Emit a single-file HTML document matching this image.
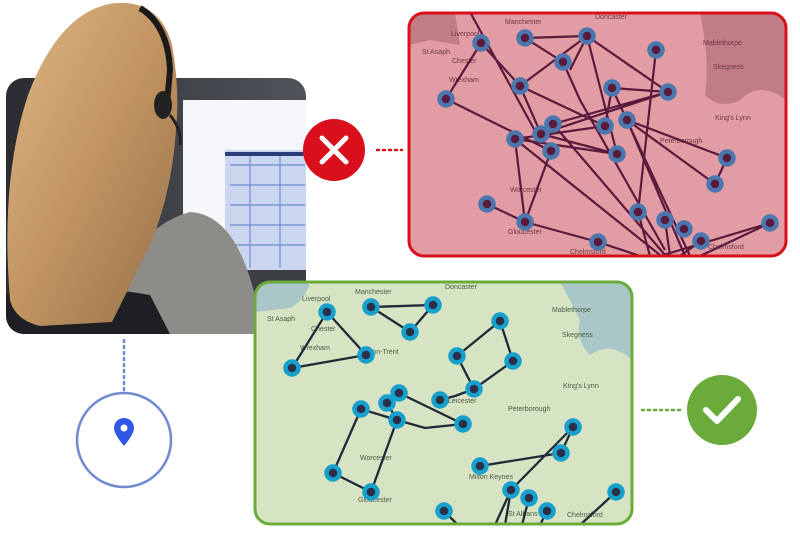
<!DOCTYPE html>
<html><head><meta charset="utf-8"><style>
html,body{margin:0;padding:0;background:#fff;width:800px;height:540px;overflow:hidden}
svg{display:block}
text{font-family:"Liberation Sans",sans-serif}
</style></head><body>
<svg width="800" height="540" viewBox="0 0 800 540" xmlns="http://www.w3.org/2000/svg">
<defs>
<clipPath id="ph"><rect x="6" y="78" width="300" height="256" rx="18"/></clipPath>
<clipPath id="rm"><rect x="409" y="13" width="377" height="243" rx="15"/></clipPath>
<clipPath id="gm"><rect x="255" y="282" width="377" height="242" rx="15"/></clipPath>
<linearGradient id="hair" x1="0" y1="0" x2="1" y2="1">
<stop offset="0" stop-color="#dcb785"/><stop offset=".5" stop-color="#c29462"/><stop offset="1" stop-color="#94704a"/></linearGradient>
<linearGradient id="bg" x1="0" y1="0" x2="1" y2="0">
<stop offset="0" stop-color="#2a2c30"/><stop offset="1" stop-color="#50545a"/></linearGradient>
</defs>

<g clip-path="url(#ph)">
<rect x="6" y="78" width="300" height="256" fill="url(#bg)"/>
<rect x="183" y="100" width="125" height="178" fill="#f4f6fa"/>
<rect x="225" y="150" width="83" height="120" fill="#c9d6ee"/>
<g stroke="#5a7ad0" stroke-width="1.2" opacity=".8">
<line x1="230" y1="165" x2="305" y2="165"/><line x1="230" y1="185" x2="305" y2="185"/><line x1="230" y1="205" x2="305" y2="205"/><line x1="230" y1="225" x2="305" y2="225"/><line x1="230" y1="245" x2="305" y2="245"/><line x1="250" y1="155" x2="250" y2="268"/><line x1="280" y1="155" x2="280" y2="268"/></g>
<rect x="225" y="152" width="83" height="4" fill="#2b3d78"/>
<rect x="150" y="270" width="160" height="64" fill="#3b3e42"/>
<path d="M95 334 Q125 230 190 212 Q245 215 262 334 Z" fill="#8d8c88"/>
<path d="M0 295 Q80 282 150 295 L170 334 L0 334 Z" fill="#1e1f22"/>
</g>
<path d="M10 300 Q0 180 28 95 Q60 10 115 3 Q160 0 172 45 Q180 90 176 130 Q172 190 152 240 Q128 290 112 322 L40 326 Q15 320 10 300 Z" fill="url(#hair)"/>
<path d="M140 8 Q168 25 170 70 L166 115" stroke="#1a1a1a" stroke-width="6" fill="none"/>
<ellipse cx="163" cy="105" rx="9" ry="14" fill="#222"/>
<path d="M170 115 Q182 130 180 145" stroke="#222" stroke-width="3" fill="none"/>

<circle cx="334" cy="150" r="31" fill="#d9101c"/>
<path d="M322 138 L346 162 M346 138 L322 162" stroke="#fff" stroke-width="5" stroke-linecap="round"/>
<line x1="377" y1="150" x2="402" y2="150" stroke="#d9101c" stroke-width="2.5" stroke-dasharray="2 4" stroke-linecap="round"/>

<g clip-path="url(#rm)">
<rect x="409" y="13" width="377" height="243" fill="#e29ca4"/>
<path d="M409 13 L455 13 L460 45 L430 40 L409 45Z" fill="#c07d85"/>
<path d="M700 13 L786 13 L786 100 Q760 80 740 100 Q720 110 705 95 Q710 60 700 13Z" fill="#c07d85"/>
<g font-size="7" fill="#6b3a42">
<text x="505" y="24">Manchester</text><text x="595" y="19">Doncaster</text><text x="451" y="36">Liverpool</text><text x="422" y="54">St Asaph</text><text x="452" y="63">Chester</text><text x="449" y="82">Wrexham</text><text x="703" y="45">Mablethorpe</text><text x="713" y="69">Skegness</text><text x="715" y="120">King's Lynn</text><text x="660" y="143">Peterborough</text><text x="510" y="192">Worcester</text><text x="570" y="254">Chelmsford</text><text x="708" y="249">Chelmsford</text><text x="508" y="234">Gloucester</text></g>
<g stroke="#5a1a3c" stroke-width="2.2" fill="none">
<path d="M481 43 L520 86 M481 43 L446 99 M525 38 L587 36 M525 38 L563 62 M587 36 L520 86 M587 36 L570 70 M587 36 L617 154 M587 36 L668 92 M446 99 L551 151 M520 86 L541 134 M520 86 L605 126 M656 50 L638 212 M612 88 L668 92 M612 88 L605 126 M668 92 L553 124 M668 92 L541 134 M627 120 L727 158 M605 126 L515 139 M553 124 L665 255 M515 139 L617 154 M541 134 L617 154 M515 139 L660 255 M515 139 L525 222 M525 222 L551 151 M487 204 L525 222 M525 222 L598 242 M598 242 L640 256 M727 158 L715 184 M715 184 L627 120 M770 223 L660 256 M770 223 L700 256 M612 88 L690 256 M627 120 L685 256 M638 212 L650 256 M665 220 L670 256 M701 241 L680 256 M563 62 L580 100 L665 250 M470 12 L540 140"/>
</g>
<g fill="#5a1a3c" stroke="#4a78ae" stroke-width="4.5">
<circle cx="481" cy="43" r="6.5"/><circle cx="525" cy="38" r="6.5"/><circle cx="587" cy="36" r="6.5"/><circle cx="563" cy="62" r="6.5"/><circle cx="520" cy="86" r="6.5"/><circle cx="446" cy="99" r="6.5"/><circle cx="656" cy="50" r="6.5"/><circle cx="612" cy="88" r="6.5"/><circle cx="668" cy="92" r="6.5"/><circle cx="553" cy="124" r="6.5"/><circle cx="541" cy="134" r="6.5"/><circle cx="515" cy="139" r="6.5"/><circle cx="551" cy="151" r="6.5"/><circle cx="605" cy="126" r="6.5"/><circle cx="627" cy="120" r="6.5"/><circle cx="617" cy="154" r="6.5"/><circle cx="727" cy="158" r="6.5"/><circle cx="715" cy="184" r="6.5"/><circle cx="487" cy="204" r="6.5"/><circle cx="525" cy="222" r="6.5"/><circle cx="638" cy="212" r="6.5"/><circle cx="665" cy="220" r="6.5"/><circle cx="684" cy="229" r="6.5"/><circle cx="701" cy="241" r="6.5"/><circle cx="598" cy="242" r="6.5"/><circle cx="770" cy="223" r="6.5"/>
</g>
</g>
<rect x="409" y="13" width="377" height="243" rx="15" fill="none" stroke="#d9101c" stroke-width="3"/>

<g clip-path="url(#gm)">
<rect x="255" y="282" width="377" height="242" fill="#d7e4c4"/>
<path d="M255 282 L310 282 Q305 300 290 308 L255 312Z" fill="#a9c6c8"/>
<path d="M560 282 L632 282 L632 360 Q610 340 590 355 Q575 340 580 320 Q570 300 560 282Z" fill="#a9c6c8"/>
<g font-size="7" fill="#4a5a44">
<text x="355" y="294">Manchester</text><text x="445" y="289">Doncaster</text><text x="302" y="301">Liverpool</text><text x="267" y="321">St Asaph</text><text x="311" y="331">Chester</text><text x="300" y="350">Wrexham</text><text x="552" y="312">Mablethorpe</text><text x="562" y="337">Skegness</text><text x="563" y="388">King's Lynn</text><text x="508" y="411">Peterborough</text><text x="360" y="460">Worcester</text><text x="469" y="479">Milton Keynes</text><text x="508" y="516">St Albans</text><text x="567" y="517">Chelmsford</text><text x="358" y="502">Gloucester</text><text x="370" y="354">-on-Trent</text><text x="448" y="403">Leicester</text></g>
<g stroke="#1e2a38" stroke-width="2.3" fill="none">
<path d="M327 312 L366 355 L292 368 Z M371 307 L433 305 L410 332 Z M500 321 L457 356 L474 389 L513 361 Z M474 389 L455 396 L440 400 M399 393 L463 424 L425 428 L397 420 M387 403 L397 420 M361 409 L397 420 M361 409 L333 473 L371 492 L397 420 M480 466 L561 453 M573 427 L511 490 M573 427 L561 453 M511 490 L505 525 M511 490 L495 525 M529 498 L522 525 M547 511 L540 525 M444 511 L458 525 M616 492 L580 525"/>
</g>
<g fill="#2c2f4a" stroke="#17a0cc" stroke-width="4.5">
<circle cx="327" cy="312" r="6.5"/><circle cx="371" cy="307" r="6.5"/><circle cx="433" cy="305" r="6.5"/><circle cx="410" cy="332" r="6.5"/><circle cx="366" cy="355" r="6.5"/><circle cx="292" cy="368" r="6.5"/><circle cx="500" cy="321" r="6.5"/><circle cx="513" cy="361" r="6.5"/><circle cx="457" cy="356" r="6.5"/><circle cx="474" cy="389" r="6.5"/><circle cx="440" cy="400" r="6.5"/><circle cx="399" cy="393" r="6.5"/><circle cx="387" cy="403" r="6.5"/><circle cx="361" cy="409" r="6.5"/><circle cx="397" cy="420" r="6.5"/><circle cx="463" cy="424" r="6.5"/><circle cx="333" cy="473" r="6.5"/><circle cx="371" cy="492" r="6.5"/><circle cx="573" cy="427" r="6.5"/><circle cx="561" cy="453" r="6.5"/><circle cx="480" cy="466" r="6.5"/><circle cx="511" cy="490" r="6.5"/><circle cx="529" cy="498" r="6.5"/><circle cx="547" cy="511" r="6.5"/><circle cx="444" cy="511" r="6.5"/><circle cx="616" cy="492" r="6.5"/>
</g>
</g>
<rect x="255" y="282" width="377" height="242" rx="15" fill="none" stroke="#6aab3c" stroke-width="3"/>

<line x1="642" y1="410" x2="682" y2="410" stroke="#6aab3c" stroke-width="2.5" stroke-dasharray="2 4" stroke-linecap="round"/>
<circle cx="722" cy="410" r="35" fill="#6aab3c"/>
<path d="M706 410 L717 421 L738 399" stroke="#fff" stroke-width="6" fill="none" stroke-linecap="round" stroke-linejoin="round"/>

<line x1="124" y1="340" x2="124" y2="390" stroke="#6f88d0" stroke-width="2.5" stroke-dasharray="2 4" stroke-linecap="round"/>
<circle cx="124" cy="440" r="47" fill="#fff" stroke="#6f88d0" stroke-width="2.5"/>
<path d="M124 446 Q114 434 114 428 A10 10 0 0 1 134 428 Q134 434 124 446 Z" fill="#2f57e6"/>
<circle cx="124" cy="428" r="3.5" fill="#fff"/>
</svg>
</body></html>
